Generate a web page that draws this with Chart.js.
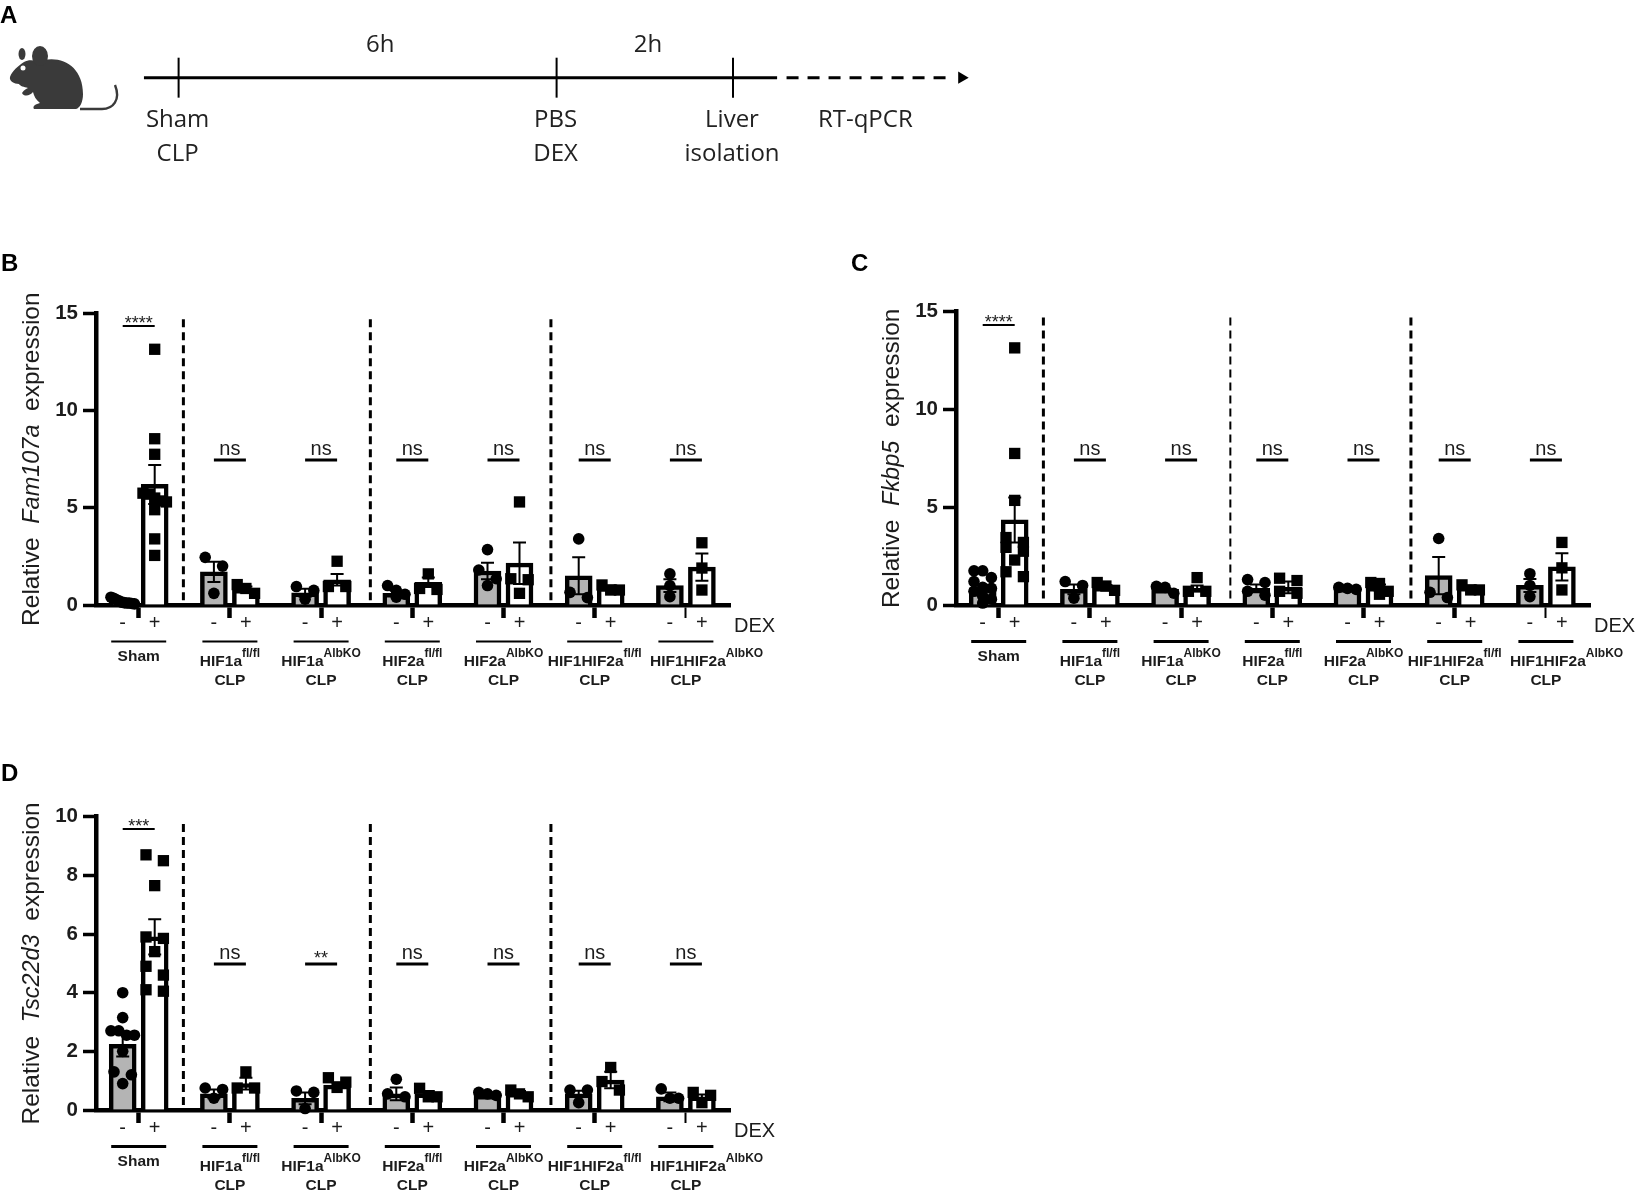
<!DOCTYPE html>
<html>
<head>
<meta charset="utf-8">
<title>Liver expression panels</title>
<script src="https://cdn.jsdelivr.net/npm/chart.js@4/dist/chart.umd.js"></script>
<style>
    body { margin: 0; background: #fff; }
    canvas, svg { position: absolute; }
</style>
</head>
<body>
<canvas id="panelA" width="1000" height="200" style="left:0;top:0"></canvas>
<svg id="mouse" width="130" height="70" viewBox="0 44 130 70" style="left:0;top:44px">
    <path fill="#3a3a3a" d="M10 77 C12 71 18 66 24 62 C30 58 36 62 44 60 C64 56 83 68 83 94 C83 102 80 108 76 109 L34 109 C32 106 36 104 40 103 C36 100 34 96 33 92 C30 96 24 97 22 93 C24 90 26 89 28 88 C24 87 20 86 19 84 C14 84 9 81 10 77 Z"/>
    <ellipse cx="40" cy="56" rx="8" ry="10" fill="#3a3a3a"/>
    <ellipse cx="22" cy="54" rx="3.5" ry="6" fill="#3a3a3a"/>
    <circle cx="23" cy="68" r="2.5" fill="#fff"/>
    <path fill="none" stroke="#3a3a3a" stroke-width="2.4" d="M80 109 L102 109 C113 109 121 100 115 85"/>
</svg>
<canvas id="panelB" width="778" height="480" style="left:0;top:250px"></canvas>
<canvas id="panelC" width="788" height="480" style="left:850px;top:250px"></canvas>
<canvas id="panelD" width="778" height="436" style="left:0;top:760px"></canvas>
<script>
// Group names, written as [main text, superscript]
const groupNames = [
    ['Sham', ''],
    ['HIF1a', 'fl/fl'],
    ['HIF1a', 'AlbKO'],
    ['HIF2a', 'fl/fl'],
    ['HIF2a', 'AlbKO'],
    ['HIF1HIF2a', 'fl/fl'],
    ['HIF1HIF2a', 'AlbKO'],
];
const dexLabels = ['-', '+'];

// Panel B, Fam107a: two bars per group, DEX - then DEX +
const fam107aMeans = [0.15, 6.2, 1.7, 0.8, 0.63, 1.3, 0.6, 1.17, 1.75, 2.15, 1.5, 0.9, 1.0, 1.95];
const fam107aSem = [0.04, 1.0, 0.52, 0.15, 0.2, 0.3, 0.13, 0.25, 0.42, 1.07, 0.95, 0.1, 0.33, 0.7];
const fam107aPoints = [
    [0.4, 0.35, 0.28, 0.22, 0.15, 0.12, 0.1, 0.1, 0.08, 0.06],
    [13.15, 8.55, 7.75, 5.75, 5.7, 5.5, 5.35, 5.3, 4.9, 3.4, 2.55],
    [2.45, 2.0, 0.6],
    [1.05, 0.85, 0.6],
    [0.95, 0.75, 0.3],
    [2.25, 0.95, 0.95],
    [1.0, 0.75, 0.55, 0.4],
    [1.6, 0.85, 0.8],
    [2.85, 1.8, 1.35, 1.0],
    [5.3, 1.35, 1.3, 0.6],
    [3.4, 0.65, 0.38],
    [1.03, 0.77, 0.77],
    [1.6, 1.0, 0.43],
    [3.2, 1.9, 0.77],
];
const fam107aSig = ['****', 'ns', 'ns', 'ns', 'ns', 'ns', 'ns'];

// Panel C, Fkbp5
const fkbp5Means = [0.85, 4.35, 0.8, 0.9, 0.8, 0.85, 0.85, 0.9, 0.85, 0.9, 1.5, 0.9, 1.0, 1.95];
const fkbp5Sem = [0.17, 1.15, 0.25, 0.12, 0.05, 0.15, 0.2, 0.3, 0.05, 0.15, 0.95, 0.1, 0.33, 0.7];
const fkbp5Points = [
    [1.75, 1.75, 1.4, 1.2, 0.9, 0.85, 0.7, 0.45, 0.3, 0.1],
    [13.15, 7.75, 5.35, 3.45, 3.2, 2.95, 2.75, 2.3, 1.7, 1.45],
    [1.2, 1.0, 0.35],
    [1.15, 0.97, 0.75],
    [0.95, 0.9, 0.6],
    [1.4, 0.7, 0.7],
    [1.3, 1.15, 0.7, 0.5],
    [1.37, 1.25, 0.7, 0.6],
    [0.9, 0.85, 0.8],
    [1.15, 1.1, 0.7, 0.55],
    [3.4, 0.65, 0.38],
    [1.03, 0.77, 0.77],
    [1.6, 1.0, 0.43],
    [3.2, 1.9, 0.77],
];
const fkbp5Sig = ['****', 'ns', 'ns', 'ns', 'ns', 'ns', 'ns'];

// Panel D, Tsc22d3
const tsc22d3Means = [2.24, 5.9, 0.55, 0.9, 0.4, 0.85, 0.55, 0.55, 0.5, 0.57, 0.55, 1.02, 0.45, 0.45];
const tsc22d3Sem = [0.42, 0.6, 0.15, 0.2, 0.2, 0.1, 0.22, 0.1, 0.03, 0.08, 0.11, 0.28, 0.15, 0.08];
const tsc22d3Points = [
    [4.0, 3.15, 2.7, 2.7, 2.55, 2.55, 2.0, 1.3, 1.2, 0.9],
    [8.7, 8.5, 7.65, 5.9, 5.85, 5.4, 4.9, 4.6, 4.1, 4.05],
    [0.75, 0.7, 0.4],
    [1.3, 0.75, 0.75],
    [0.65, 0.6, 0.05],
    [1.1, 0.95, 0.77],
    [1.05, 0.55, 0.45],
    [0.74, 0.45, 0.45],
    [0.6, 0.55, 0.5],
    [0.68, 0.55, 0.45],
    [0.68, 0.68, 0.25],
    [1.45, 0.97, 0.68],
    [0.72, 0.4, 0.4],
    [0.6, 0.5, 0.25],
];
const tsc22d3Sig = ['***', 'ns', '**', 'ns', 'ns', 'ns', 'ns'];

// Panel A timeline, x values are hours as spaced on the drawn line
const timelineStops = [0, 6, 8.8];
const stopTopLabels = ['Sham', 'PBS', 'Liver'];
const stopBottomLabels = ['CLP', 'DEX', 'isolation'];
const intervalLabels = ['6h', '2h'];
const intervalHours = [3.2, 7.45];

const SANS = '"Liberation Sans", Arial, sans-serif';
const INK = '#1c1c1c';
const PX_PER_GROUP = 91.2;
const BAR_SHIFT = 16 / PX_PER_GROUP;
const SWARM_STEP = 8.7 / PX_PER_GROUP;
const DIVIDERS = [0.49, 2.54, 4.52];

// Spreads the points of a bar sideways when their values are too close together
function swarm(values, center, yMax) {
    const sorted = [...values].sort((a, b) => b - a);
    const band = yMax * 9.5 / 292;
    const out = [];
    let i = 0;
    while (i < sorted.length) {
        let j = i;
        while (j < sorted.length && sorted[i] - sorted[j] < band) j++;
        const count = j - i;
        for (let k = 0; k < count; k++) {
            let offset = 0;
            if (count === 2) offset = k ? 1 : -1;
            else if (count === 3) offset = k - 1;
            else if (count > 3) offset = (k / (count - 1) - 0.5) * 2.7;
            out.push({ x: center + offset * SWARM_STEP, y: sorted[i + k] });
        }
        i = j;
    }
    return out;
}

function barX(index) {
    const group = Math.floor(index / 2);
    return group + (index % 2 ? BAR_SHIFT : -BAR_SHIFT);
}

function drawGroupLabel(ctx, name, centerX, y, isLast) {
    const [main, sup] = name;
    const mainFont = `bold 15.5px ${SANS}`;
    const supFont = `bold 12px ${SANS}`;
    ctx.font = mainFont;
    const mainWidth = ctx.measureText(main).width;
    ctx.font = supFont;
    const supWidth = sup ? ctx.measureText(sup).width : 0;
    // the last label has its main text centred and the superscript hanging off the end
    const left = isLast ? centerX - mainWidth / 2 + 2 : centerX - (mainWidth + supWidth) / 2;
    ctx.textAlign = 'left';
    ctx.textBaseline = 'middle';
    ctx.font = mainFont;
    ctx.fillText(main, left, y);
    if (sup) {
        ctx.font = supFont;
        ctx.fillText(sup, left + mainWidth, y - 8);
    }
}

function buildPanel(id, panel) {
    const bars = panel.means.map((mean, i) => ({ x: barX(i), y: mean }));
    const circles = [];
    const squares = [];
    panel.points.forEach((values, i) => {
        const target = i % 2 ? squares : circles;
        target.push(...swarm(values, barX(i), panel.yMax));
    });

    const annotations = {
        id: 'annotations',
        afterDatasetsDraw(chart) {
            const ctx = chart.ctx;
            const xs = chart.scales.x;
            const ys = chart.scales.y;
            ctx.save();
            ctx.strokeStyle = '#000';
            // error bars
            panel.means.forEach((mean, i) => {
                const x = xs.getPixelForValue(barX(i));
                const top = ys.getPixelForValue(mean + panel.sem[i]);
                const bottom = ys.getPixelForValue(Math.max(mean - panel.sem[i], 0));
                ctx.lineWidth = 2;
                ctx.beginPath();
                ctx.moveTo(x, top);
                ctx.lineTo(x, bottom);
                ctx.moveTo(x - 6.5, top);
                ctx.lineTo(x + 6.5, top);
                ctx.moveTo(x - 6.5, bottom);
                ctx.lineTo(x + 6.5, bottom);
                ctx.stroke();
            });
            ctx.restore();
        },
        afterDraw(chart) {
            const ctx = chart.ctx;
            const xs = chart.scales.x;
            const ys = chart.scales.y;
            const area = chart.chartArea;
            ctx.save();
            ctx.fillStyle = INK;
            ctx.strokeStyle = '#000';

            // dashed dividers
            DIVIDERS.forEach((value, i) => {
                const x = xs.getPixelForValue(value);
                ctx.lineWidth = panel.dividerWidths[i];
                ctx.setLineDash([8, 5]);
                ctx.beginPath();
                ctx.moveTo(x, ys.getPixelForValue(panel.dividerTop));
                ctx.lineTo(x, area.bottom);
                ctx.stroke();
            });
            ctx.setLineDash([]);

            groupNames.forEach((name, g) => {
                const center = xs.getPixelForValue(g);
                const left = xs.getPixelForValue(g - BAR_SHIFT);
                const right = xs.getPixelForValue(g + BAR_SHIFT);

                // significance bracket and label
                const sig = panel.sig[g];
                const isStars = sig.includes('*');
                const lineY = ys.getPixelForValue(g === 0 ? panel.starsY : panel.nsY);
                ctx.lineWidth = g === 0 ? 2 : 3;
                ctx.beginPath();
                ctx.moveTo(left, lineY);
                ctx.lineTo(right, lineY);
                ctx.stroke();
                ctx.textAlign = 'center';
                ctx.textBaseline = 'alphabetic';
                if (isStars) {
                    ctx.font = `18px ${SANS}`;
                    ctx.fillText(sig, center, lineY + (g === 0 ? 3 : 0));
                } else {
                    ctx.font = `20px ${SANS}`;
                    ctx.fillText(sig, center, lineY - 5);
                }

                // - and + under the bars
                ctx.font = `20px ${SANS}`;
                ctx.textBaseline = 'middle';
                ctx.fillText(dexLabels[0], left, area.bottom + 18);
                ctx.fillText(dexLabels[1], right, area.bottom + 18);

                // rule under the dex marks
                ctx.lineWidth = panel.ruleWidth;
                ctx.beginPath();
                ctx.moveTo(center - 27.5, area.bottom + 36.5);
                ctx.lineTo(center + 27.5, area.bottom + 36.5);
                ctx.stroke();

                if (g === 0) {
                    drawGroupLabel(ctx, name, center, area.bottom + 52, false);
                } else {
                    drawGroupLabel(ctx, name, center, area.bottom + 57, g === groupNames.length - 1);
                    ctx.font = `bold 15.5px ${SANS}`;
                    ctx.textAlign = 'center';
                    ctx.fillText('CLP', center, area.bottom + 76);
                }
            });

            ctx.textAlign = 'left';
            ctx.textBaseline = 'middle';
            ctx.font = `20px ${SANS}`;
            ctx.fillText('DEX', area.right + 4, area.bottom + 21);

            // panel letter
            ctx.font = `bold 24px ${SANS}`;
            ctx.fillStyle = '#000';
            ctx.fillText(panel.letter, 1, 14);

            // y title with the gene name in italics
            const parts = [
                ['Relative  ', `24.5px ${SANS}`],
                [panel.gene, `italic 23.5px ${SANS}`],
                ['  expression', `24.5px ${SANS}`],
            ];
            let total = 0;
            parts.forEach(([text, font]) => {
                ctx.font = font;
                total += ctx.measureText(text).width;
            });
            ctx.translate(area.left - 64, (area.top + area.bottom) / 2);
            ctx.rotate(-Math.PI / 2);
            ctx.fillStyle = INK;
            let cursor = -total / 2;
            parts.forEach(([text, font]) => {
                ctx.font = font;
                ctx.fillText(text, cursor, 0);
                cursor += ctx.measureText(text).width;
            });
            ctx.restore();
        },
    };

    return new Chart(document.getElementById(id), {
        data: {
            datasets: [
                {
                    type: 'scatter',
                    label: 'DEX -',
                    data: circles,
                    order: 1,
                    clip: false,
                    pointStyle: 'circle',
                    pointRadius: 5.8,
                    backgroundColor: '#000',
                    borderWidth: 0,
                },
                {
                    type: 'scatter',
                    label: 'DEX +',
                    data: squares,
                    order: 1,
                    clip: false,
                    pointStyle: 'rect',
                    pointRadius: 8,
                    backgroundColor: '#000',
                    borderWidth: 0,
                },
                {
                    type: 'bar',
                    label: panel.gene,
                    data: bars,
                    order: 2,
                    barThickness: 27,
                    backgroundColor: bars.map((_, i) => (i % 2 ? '#ffffff' : '#b4b4b4')),
                    borderColor: '#000',
                    borderWidth: 4.5,
                },
            ],
        },
        options: {
            responsive: false,
            animation: false,
            layout: {
                autoPadding: false,
                padding: { top: panel.paddingTop, right: 48, left: panel.paddingLeft || 0, bottom: 0 },
            },
            plugins: { legend: { display: false }, tooltip: { enabled: false } },
            scales: {
                x: {
                    type: 'linear',
                    offset: false,
                    min: (96 - 138.7) / PX_PER_GROUP,
                    max: (730 - 138.7) / PX_PER_GROUP,
                    afterBuildTicks: (scale) => {
                        scale.ticks = groupNames.map((_, g) => ({ value: g }));
                    },
                    afterFit: (scale) => {
                        scale.height = panel.xAxisHeight;
                    },
                    ticks: { display: false, autoSkip: false },
                    border: { color: '#000', width: 4.5 },
                    grid: {
                        offset: false,
                        drawOnChartArea: false,
                        tickLength: 13,
                        tickColor: '#000',
                        tickWidth: (context) => (context.index === groupNames.length - 1 ? 2 : 4.5),
                    },
                },
                y: {
                    min: 0,
                    max: panel.yMax,
                    afterFit: (scale) => {
                        scale.width = 96;
                    },
                    ticks: {
                        stepSize: panel.step,
                        padding: 5,
                        color: INK,
                        font: { family: SANS, size: 20.5, weight: 'bold' },
                    },
                    border: { color: '#000', width: 4.5 },
                    grid: { drawOnChartArea: false, tickLength: 13, tickColor: '#000', tickWidth: 3.5 },
                },
            },
        },
        plugins: [annotations],
    });
}

buildPanel('panelB', {
    letter: 'B', gene: 'Fam107a',
    means: fam107aMeans, sem: fam107aSem, points: fam107aPoints, sig: fam107aSig,
    yMax: 15, step: 5, paddingTop: 63.3, xAxisHeight: 125,
    starsY: 14.35, nsY: 7.46, dividerTop: 14.7, dividerWidths: [3, 3, 3], ruleWidth: 1.8,
});

buildPanel('panelC', {
    letter: 'C', gene: 'Fkbp5',
    means: fkbp5Means, sem: fkbp5Sem, points: fkbp5Points, sig: fkbp5Sig,
    yMax: 15, step: 5, paddingTop: 61.7, paddingLeft: 10, xAxisHeight: 125,
    starsY: 14.32, nsY: 7.42, dividerTop: 14.7, dividerWidths: [3, 2, 3], ruleWidth: 3,
});

buildPanel('panelD', {
    letter: 'D', gene: 'Tsc22d3',
    means: tsc22d3Means, sem: tsc22d3Sem, points: tsc22d3Points, sig: tsc22d3Sig,
    yMax: 10, step: 2, paddingTop: 56.7, xAxisHeight: 86,
    starsY: 9.58, nsY: 4.98, dividerTop: 9.75, dividerWidths: [3, 3, 3], ruleWidth: 3,
});

// Panel A timeline
const timelineLabels = {
    id: 'timelineLabels',
    afterDraw(chart) {
        const ctx = chart.ctx;
        const xs = chart.scales.x;
        const lineY = chart.scales.y.getPixelForValue(0);
        ctx.save();
        ctx.fillStyle = '#222';
        ctx.textAlign = 'center';
        ctx.textBaseline = 'middle';
        ctx.font = '24px "Open Sans", sans-serif';
        timelineStops.forEach((hour, i) => {
            const x = xs.getPixelForValue(hour) - 1;
            ctx.fillText(stopTopLabels[i], x, lineY + 42);
            ctx.fillText(stopBottomLabels[i], x, lineY + 76);
        });
        intervalLabels.forEach((text, i) => {
            ctx.fillText(text, xs.getPixelForValue(intervalHours[i]), lineY - 33);
        });
        ctx.fillText('RT-qPCR', xs.getPixelForValue(10.9), lineY + 42);
        ctx.font = `bold 24px ${SANS}`;
        ctx.textAlign = 'left';
        ctx.fillStyle = '#000';
        ctx.fillText('A', 0, 16);
        ctx.restore();
    },
};

new Chart(document.getElementById('panelA'), {
    type: 'scatter',
    data: {
        datasets: [
            {
                data: [{ x: -0.55, y: 0 }, { x: 9.5, y: 0 }],
                showLine: true, borderColor: '#000', borderWidth: 3, pointRadius: 0,
            },
            {
                data: [{ x: 9.65, y: 0 }, { x: 12.24, y: 0 }],
                showLine: true, borderColor: '#000', borderWidth: 3, borderDash: [12, 9], pointRadius: 0,
            },
            {
                data: [{ x: 12.43, y: 0 }],
                pointStyle: 'triangle', rotation: 90, pointRadius: 7, backgroundColor: '#000', borderWidth: 0,
            },
            ...timelineStops.map((hour) => ({
                data: [{ x: hour, y: -0.49 }, { x: hour, y: 0.49 }],
                showLine: true, borderColor: '#000', borderWidth: 2, pointRadius: 0,
            })),
        ],
    },
    options: {
        responsive: false,
        animation: false,
        layout: { autoPadding: false, padding: { top: 36.9 } },
        plugins: { legend: { display: false }, tooltip: { enabled: false } },
        scales: {
            x: { display: false, min: -178.6 / 63, max: (1000 - 178.6) / 63 },
            y: { display: false, min: -3, max: 1 },
        },
    },
    plugins: [timelineLabels],
});
</script>
</body>
</html>
